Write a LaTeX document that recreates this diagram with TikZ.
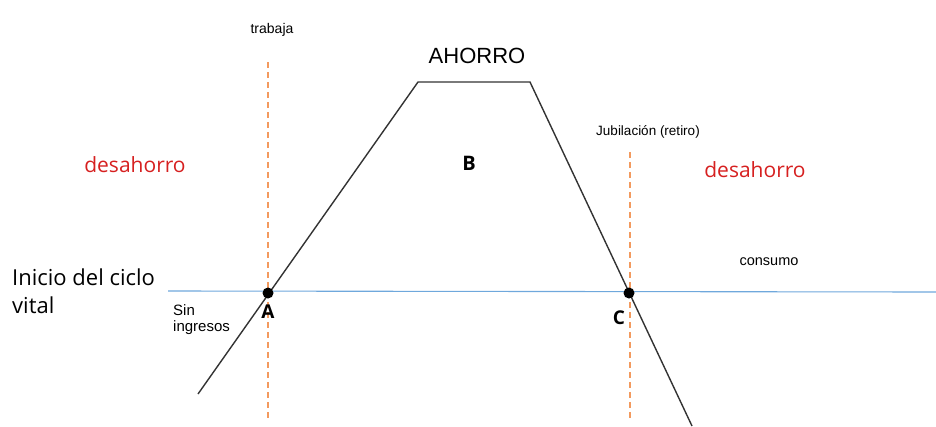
\documentclass[tikz,border=0pt]{standalone}
\usepackage{fontspec}
\setmainfont{Liberation Sans}
\newfontfamily\opensans{Open Sans}
\definecolor{curvegray}{HTML}{333333}
\definecolor{lineblue}{HTML}{6FA8DC}
\definecolor{dashorange}{HTML}{F39A5E}
\definecolor{redtext}{HTML}{D62020}
\begin{document}
\begin{tikzpicture}[x=1pt,y=-1pt,
  lbl/.style={inner sep=0pt, anchor=base},
  big/.style={lbl, font=\opensans\fontsize{22}{26}\selectfont},
  redword/.style={lbl, text=redtext, font=\opensans\fontsize{21}{25}\selectfont},
  small/.style={lbl, font=\fontsize{14.5}{17}\selectfont},
  letter/.style={lbl, font=\opensans\bfseries\fontsize{19}{22}\selectfont},
  guide/.style={dashorange, line width=1.2pt, dash pattern=on 6pt off 4pt},
  curve/.style={curvegray, line width=1.4pt},
  dot/.style={circle, fill=black, inner sep=0pt, minimum size=11pt}]
\useasboundingbox (0,0) rectangle (936,426);
% curve points
\coordinate (p0) at (198,394);
\coordinate (p1) at (418,82);
\coordinate (p2) at (530,82);
\coordinate (p3) at (692,426);
% axis line
\coordinate (l0) at (168,291);
\coordinate (l1) at (936,292);
\draw[lineblue, line width=1.1pt] (l0) -- (l1);
% dashed guides
\coordinate (g1a) at (268,62);
\coordinate (g1b) at (268,418);
\coordinate (g2a) at (630,152);
\coordinate (g2b) at (630,418);
\draw[guide] (g1a) -- (g1b);
\draw[guide] (g2a) -- (g2b);
% trapezoid curve
\draw[curve] (p0) -- (p1) -- (p2) -- (p3);
% dots
\node[dot] (A) at (268,293) {};
\node[dot] (C) at (629,293) {};
% labels
\node[letter] (la) at (268,318) {A};
\node[letter] (lc) at (619,324) {C};
\node[letter, font=\opensans\bfseries\fontsize{20}{24}\selectfont] (lb) at (469,170) {B};
\node[lbl, font=\fontsize{22}{26}\selectfont] (ahorro) at (477,63) {AHORRO};
\node[small, font=\fontsize{14}{17}\selectfont] (trab) at (272,33) {trabaja};
\node[small, font=\fontsize{13.5}{16}\selectfont] (jub) at (648,135) {Jubilación (retiro)};
\node[small] (cons) at (769,265) {consumo};
\node[redword] (d1) at (135,172) {desahorro};
\node[redword] (d2) at (755,177) {desahorro};
\node[big, anchor=base west] (ini1) at (12,285) {Inicio del ciclo};
\node[big, anchor=base west] (ini2) at (12,313) {vital};
\node[small, anchor=base west, font=\fontsize{15}{18}\selectfont] (sin1) at (173,315) {Sin};
\node[small, anchor=base west, font=\fontsize{15}{18}\selectfont] (sin2) at (173,331) {ingresos};
\end{tikzpicture}
\end{document}
